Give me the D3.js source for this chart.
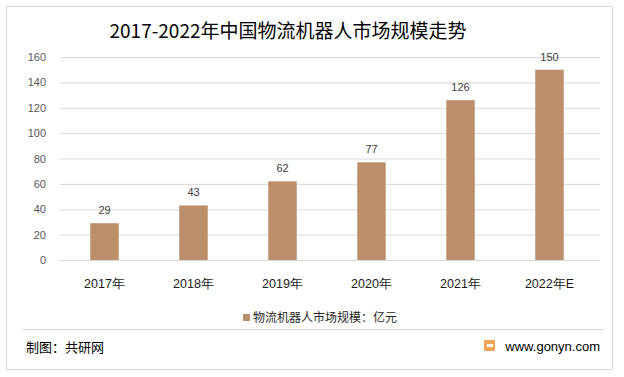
<!DOCTYPE html>
<html><head><meta charset="utf-8">
<script src="https://cdn.jsdelivr.net/npm/d3@7"></script>
<style>body{margin:0;background:#fff}svg{display:block;font-family:"Noto Sans CJK SC","Microsoft YaHei",sans-serif}</style>
</head><body><svg id="c" width="624" height="377"></svg>
<script>
const categories = ["2017年","2018年","2019年","2020年","2021年","2022年E"];
const values = [29,43,62,77,126,150];
const yTicks = [0,20,40,60,80,100,120,140,160];
const title = "2017-2022年中国物流机器人市场规模走势";
const legendLabel = "物流机器人市场规模：亿元";
const sourceLabel = "制图：共研网";
const siteLabel = "www.gonyn.com";

const svg = d3.select("#c");
svg.append("rect").attr("x",6.5).attr("y",6.5).attr("width",606).attr("height",363).attr("fill","#fff").attr("stroke","#d9d9d9");

const x = d3.scaleBand().domain(categories).range([60,594]).paddingInner(0.68).paddingOuter(0.34);
const y = d3.scaleLinear().domain([0,160]).range([260,57]);

svg.append("text").attr("x",288).attr("y",38).attr("text-anchor","middle").attr("font-size",19).attr("fill","#000").text(title);

const gy = svg.append("g").attr("transform","translate(60,0)")
  .call(d3.axisLeft(y).tickValues(yTicks).tickSize(-540).tickPadding(14));
gy.select(".domain").remove();
gy.selectAll(".tick line").attr("stroke","#d9d9d9");
gy.selectAll(".tick text").attr("font-size",11).attr("fill","#595959").attr("font-family","Liberation Sans, Arial, sans-serif");

svg.selectAll("rect.bar").data(values).join("rect").attr("class","bar")
  .attr("x",(d,i)=>x(categories[i])).attr("width",x.bandwidth())
  .attr("y",d=>y(d)).attr("height",d=>y(0)-y(d)).attr("fill","#bc8f6b");

svg.selectAll("text.val").data(values).join("text").attr("class","val")
  .attr("x",(d,i)=>x(categories[i])+x.bandwidth()/2).attr("y",d=>y(d)-9)
  .attr("text-anchor","middle").attr("font-size",11).attr("fill","#404040")
  .attr("font-family","Liberation Sans, Arial, sans-serif").text(d=>d);

const gx = svg.append("g").attr("transform","translate(0,260)")
  .call(d3.axisBottom(x).tickSize(0).tickPadding(19));
gx.select(".domain").remove();
gx.selectAll(".tick text").attr("font-size",12.5).attr("fill","#1a1a1a");

const lg = svg.append("g");
lg.append("rect").attr("x",243).attr("y",314).attr("width",7).attr("height",7).attr("fill","#bc8f6b");
lg.append("text").attr("x",253).attr("y",322).attr("font-size",12).attr("fill","#262626").text(legendLabel);

svg.append("line").attr("x1",22).attr("x2",605).attr("y1",329.5).attr("y2",329.5).attr("stroke","#d9d9d9");
svg.append("text").attr("x",26).attr("y",352).attr("font-size",13).attr("fill","#000").text(sourceLabel);
const logo = svg.append("g").attr("transform","translate(484,340)");
logo.append("rect").attr("width",11).attr("height",11).attr("fill","#f2a65a").attr("rx",1);
logo.append("rect").attr("x",3).attr("y",4).attr("width",6).attr("height",3).attr("fill","#fff");
svg.append("text").attr("x",600).attr("y",351).attr("text-anchor","end").attr("font-size",13).attr("fill","#000")
  .attr("font-family","Liberation Sans, Arial, sans-serif").text(siteLabel);
</script></body></html>
